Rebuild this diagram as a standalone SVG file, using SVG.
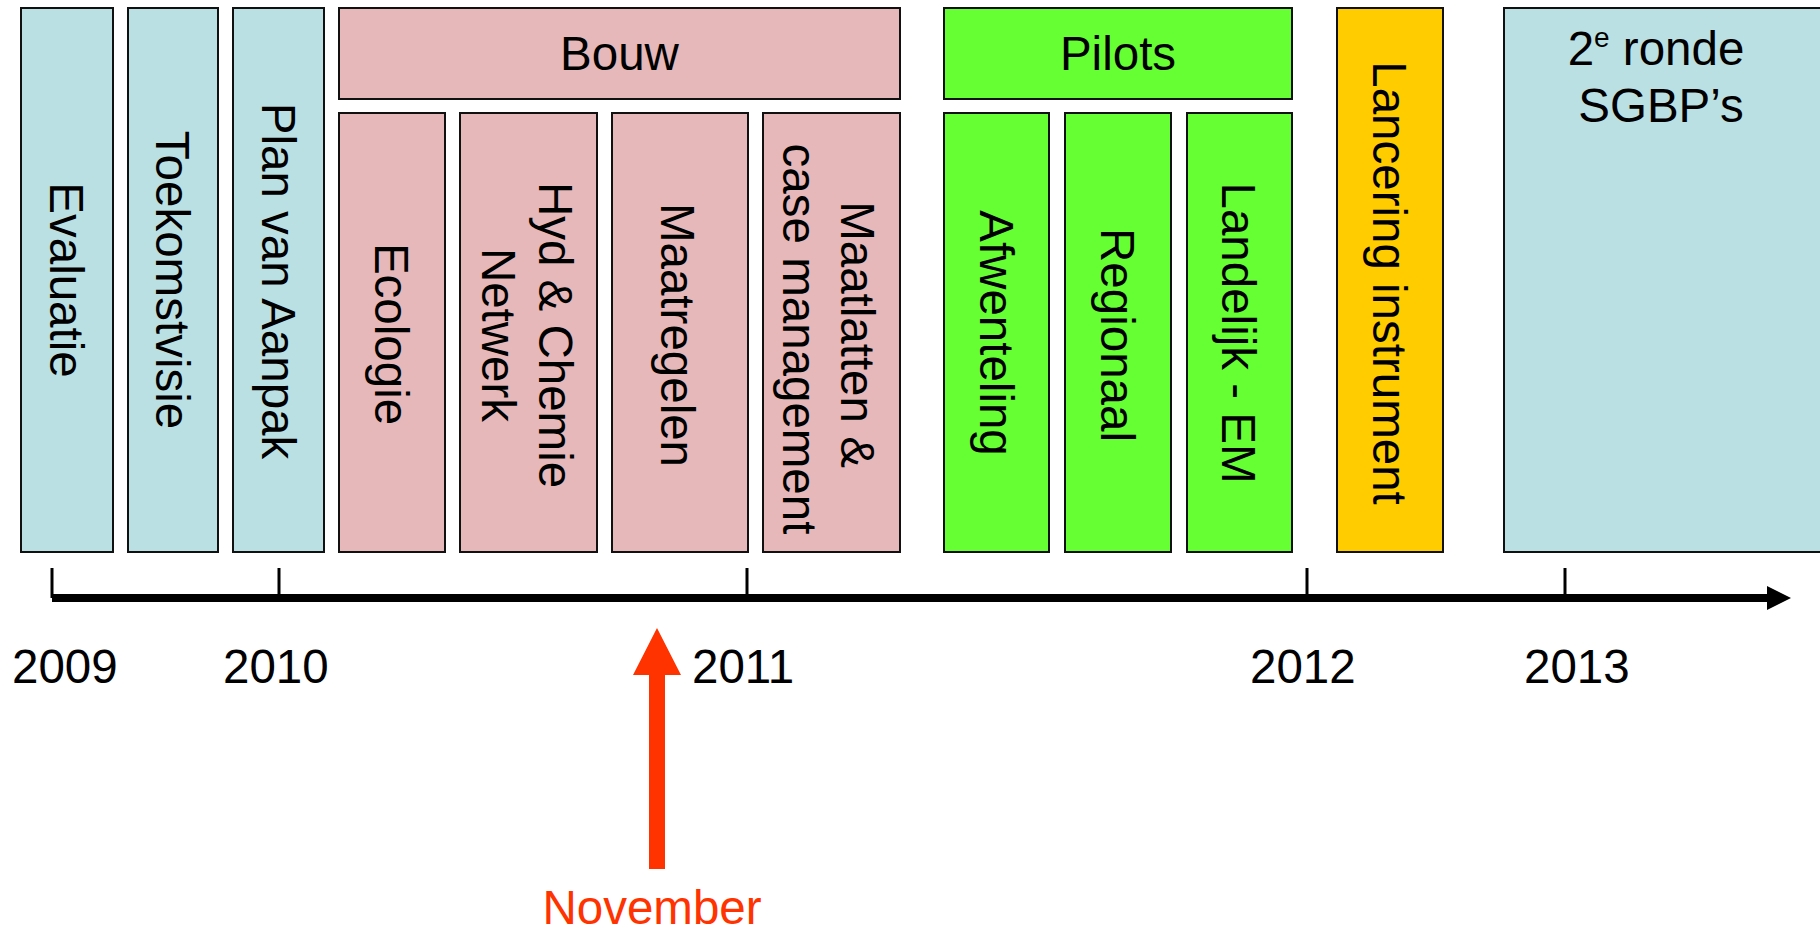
<svg xmlns="http://www.w3.org/2000/svg" width="1820" height="932" viewBox="0 0 1820 932">
<style>
.box{stroke:#111;stroke-width:2}
.blue{fill:#BBE0E3}
.pink{fill:#E6B8B9}
.green{fill:#66FF33}
.yellow{fill:#FFCC00}
text{font-family:"Liberation Sans",Arial,sans-serif;font-size:47.5px;fill:#000}
.c{text-anchor:middle}
.tick{stroke:#000;stroke-width:3}
</style>
<rect width="1820" height="932" fill="#fff"/>
<g id="evaluatie"><rect class="box blue" x="21" y="8" width="92" height="544"/><text class="c" transform="translate(50,280) rotate(90)">Evaluatie</text></g>
<g id="toekomstvisie"><rect class="box blue" x="128" y="8" width="90" height="544"/><text class="c" transform="translate(156,280) rotate(90)">Toekomstvisie</text></g>
<g id="plan-van-aanpak"><rect class="box blue" x="233" y="8" width="91" height="544"/><text class="c" transform="translate(261.5,281) rotate(90)">Plan van Aanpak</text></g>
<g id="bouw"><rect class="box pink" x="339" y="8" width="561" height="91"/><text class="c" x="619.5" y="70">Bouw</text></g>
<g id="ecologie"><rect class="box pink" x="339" y="113" width="106" height="439"/><text class="c" transform="translate(375,334) rotate(90)">Ecologie</text></g>
<g id="hyd-chemie"><rect class="box pink" x="460" y="113" width="137" height="439"/><text class="c" transform="translate(539,335) rotate(90)">Hyd &amp; Chemie</text><text class="c" transform="translate(482,335) rotate(90)">Netwerk</text></g>
<g id="maatregelen"><rect class="box pink" x="612" y="113" width="136" height="439"/><text class="c" transform="translate(661,335) rotate(90)">Maatregelen</text></g>
<g id="maatlatten"><rect class="box pink" x="763" y="113" width="137" height="439"/><text class="c" transform="translate(841,334.5) rotate(90)">Maatlatten &amp;</text><text class="c" transform="translate(783,339) rotate(90)">case management</text></g>
<g id="pilots"><rect class="box green" x="944" y="8" width="348" height="91"/><text class="c" x="1118" y="70">Pilots</text></g>
<g id="afwenteling"><rect class="box green" x="944" y="113" width="105" height="439"/><text class="c" transform="translate(979.5,333) rotate(90)">Afwenteling</text></g>
<g id="regionaal"><rect class="box green" x="1065" y="113" width="106" height="439"/><text class="c" transform="translate(1100.5,335) rotate(90)">Regionaal</text></g>
<g id="landelijk"><rect class="box green" x="1187" y="113" width="105" height="439"/><text class="c" transform="translate(1222,333) rotate(90)">Landelijk - EM</text></g>
<g id="lancering"><rect class="box yellow" x="1337" y="8" width="106" height="544"/><text class="c" transform="translate(1373,283) rotate(90)">Lancering instrument</text></g>
<g id="tweede-ronde"><rect class="box blue" x="1504" y="8" width="320" height="544"/><text class="c" x="1656" y="65">2<tspan style="font-size:28px" dy="-18">e</tspan><tspan dy="18"> ronde</tspan></text><text class="c" x="1661" y="122">SGBP’s</text></g>
<g id="connectors">
<line x1="52" y1="598" x2="1770" y2="598" stroke="#000" stroke-width="8"/>
<polygon points="1767,586 1791,598 1767,610" fill="#000"/>
<line class="tick" x1="52" y1="568" x2="52" y2="598"/>
<line class="tick" x1="279" y1="568" x2="279" y2="598"/>
<line class="tick" x1="747" y1="568" x2="747" y2="598"/>
<line class="tick" x1="1307" y1="568" x2="1307" y2="598"/>
<line class="tick" x1="1565" y1="568" x2="1565" y2="598"/>
<polygon points="649,869 649,675 633,675 657,628 681,675 665,675 665,869" fill="#FF3300"/>
</g>
<g id="labels">
<text x="12" y="683">2009</text>
<text x="223" y="683">2010</text>
<text x="692" y="683">2011</text>
<text x="1250" y="683">2012</text>
<text x="1524" y="683">2013</text>
<text class="c" x="652" y="924" style="fill:#FF3300">November</text>
</g>
</svg>
